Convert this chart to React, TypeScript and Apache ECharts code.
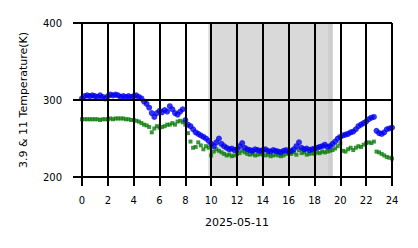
import React, { useEffect, useRef } from "react";
import * as echarts from "echarts";

const xTicks = [0, 2, 4, 6, 8, 10, 12, 14, 16, 18, 20, 22, 24];
const yTicks = [200, 300, 400];
const dateLabel = "2025-05-11";
const yLabel = "3.9 & 11 Temperature(K)";
const nightStart = 9.78;
const nightEdge = 19.05;
const nightEnd = 19.42;
const sampleStepHours = 0.2;

// 3.9 µm brightness temperature (K), one value every 0.2 h from 0 to 24
const blueValues = [
  302, 305, 306, 305, 306,
  305, 304, 306, 304, 302,
  305, 307, 306, 307, 306,
  304, 305, 304, 305, 304,
  305, 306, 304, 302, 298,
  295, 290, 283, 278, 283,
  286, 284, 287, 285, 292,
  288, 283, 281, 285, 288,
  274, 268, 266, 262, 258,
  256, 254, 252, 250, 247,
  243, 240, 245, 250, 243,
  240, 238, 236, 237, 235,
  236, 240, 244, 238, 236,
  235, 234, 236, 235, 234,
  235, 236, 234, 233, 235,
  234, 233, 232, 234, 235,
  233, 234, 236, 240, 245,
  238, 236, 237, 235, 236,
  237, 238, 239, 240, 242,
  239, 240, 243, 246, 250,
  252, 254, 255, 256, 258,
  259, 262, 266, 268, 270,
  272, 275, 277, 278, 260,
  257, 256, 258, 262, 263,
  264,
];

// 11 µm brightness temperature (K), one value every 0.2 h from 0 to 24
const greenValues = [
  275, 275, 275, 275, 275,
  275, 275, 274, 275, 275,
  275, 276, 275, 276, 276,
  276, 276, 275, 275, 274,
  274, 273, 272, 270, 268,
  267, 265, 258, 263, 266,
  264, 265, 266, 268, 268,
  270, 268, 272, 273, 271,
  268, 257, 246, 238, 239,
  245, 241, 236, 240, 238,
  228, 233, 236, 234, 232,
  230, 228, 229, 227, 228,
  230, 231, 234, 232, 230,
  229, 230, 228, 229, 230,
  229, 228, 229, 227, 228,
  229, 228, 227, 228, 230,
  231, 230, 232, 229, 235,
  231, 232, 229, 230, 231,
  230, 232, 231, 233, 232,
  233, 234, 235, 237, 240,
  244, 234, 233, 236, 238,
  235, 238, 240, 239, 242,
  244, 245, 244, 246, 233,
  232, 230, 228, 226, 225,
  224,
];

const pairs = (vals: number[]) => vals.map((v, i) => [+(i * sampleStepHours).toFixed(2), v]);

export default function App() {
  const ref = useRef<HTMLDivElement>(null);
  useEffect(() => {
    if (!ref.current) return;
    const chart = echarts.init(ref.current, null, { renderer: "svg" });
    const font = "DejaVu Sans";
    const axisCommon = {
      z: 10,
      axisLine: { show: true, lineStyle: { color: "#000", width: 2 } },
      axisTick: { show: true, length: 9, lineStyle: { color: "#000", width: 2 } },
      splitLine: { show: true, lineStyle: { color: "#000", width: 2 } },
      nameTextStyle: { color: "#000", fontFamily: font, fontSize: 11 },
    };
    chart.setOption({
      animation: false,
      grid: { left: 82, right: 26, top: 23, bottom: 71, containLabel: false },
      xAxis: {
        ...axisCommon,
        type: "value",
        min: xTicks[0],
        max: xTicks[xTicks.length - 1],
        interval: 2,
        name: dateLabel,
        nameLocation: "middle",
        nameGap: 40,
        axisLabel: { color: "#000", fontFamily: font, fontSize: 10, margin: 18 },
      },
      yAxis: {
        ...axisCommon,
        type: "value",
        min: yTicks[0],
        max: yTicks[yTicks.length - 1],
        interval: 100,
        name: yLabel,
        nameLocation: "middle",
        nameGap: 53,
        axisLabel: { color: "#000", fontFamily: font, fontSize: 10, margin: 20 },
      },
      series: [
        {
          type: "scatter",
          z: 1,
          data: [],
          silent: true,
          markArea: {
            silent: true,
            itemStyle: { color: "#d9d9d9" },
            data: [
              [{ xAxis: nightStart }, { xAxis: nightEdge }],
              [{ xAxis: nightEdge, itemStyle: { color: "#cdcdcd" } }, { xAxis: nightEnd }],
            ],
          },
        },
        {
          type: "scatter",
          z: 3,
          symbol: "rect",
          symbolSize: 4,
          itemStyle: { color: "#0a7d0a" },
          data: pairs(greenValues),
        },
        {
          type: "scatter",
          z: 4,
          symbol: "circle",
          symbolSize: 6,
          itemStyle: { color: "#0000f0" },
          data: pairs(blueValues),
        },
      ],
    });
    return () => chart.dispose();
  }, []);
  return (
    <div
      ref={ref}
      style={{ position: "fixed", left: 0, top: 0, width: 418, height: 248, background: "#fff" }}
    />
  );
}
